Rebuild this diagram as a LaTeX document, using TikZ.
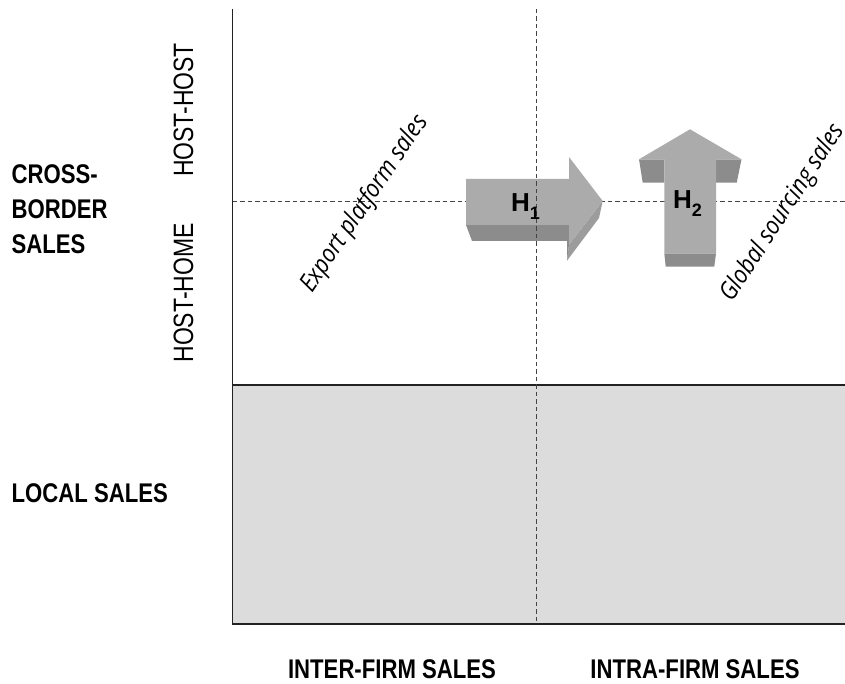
\documentclass[tikz,border=0pt]{standalone}
\usepackage{fontspec}
\setmainfont{Liberation Sans}
\newfontfamily\narrowfont[FakeStretch=0.82]{Liberation Sans}
\newfontfamily\humanfont[FakeStretch=0.88]{Open Sans}
\definecolor{frontgray}{HTML}{ABABAB}
\definecolor{darkgray2}{HTML}{8C8C8C}
\definecolor{sidegray}{HTML}{9C9C9C}
\definecolor{fillgray}{HTML}{DCDCDC}
\definecolor{linegray}{HTML}{222222}
\definecolor{dashgray}{HTML}{444444}
\begin{document}
\begin{tikzpicture}[x=1pt,y=-1pt,
  axislabel/.style={inner sep=0pt,font=\narrowfont\bfseries\fontsize{27}{27}\selectfont},
  sublabel/.style={inner sep=0pt,font=\narrowfont\fontsize{28}{28}\selectfont},
  diaglabel/.style={inner sep=0pt,font=\humanfont\itshape\fontsize{25}{25}\selectfont},
  hlabel/.style={inner sep=0pt,anchor=base west,font=\bfseries\fontsize{26}{26}\selectfont},
  axisline/.style={draw=linegray,line width=1.5pt},
  dashline/.style={draw=dashgray,line width=1pt,dash pattern=on 4.5pt off 3pt},
  front/.style={fill=frontgray},
  dark/.style={fill=darkgray2},
  side/.style={fill=sidegray}]
\useasboundingbox (0,0) rectangle (845,684);

% coordinates
\coordinate (top) at (232.7,9);
\coordinate (bl) at (232.7,624);
\coordinate (br) at (845,624);
\coordinate (ml) at (232.7,385);
\coordinate (mr) at (845,385);
\coordinate (vt) at (536,9);
\coordinate (vb) at (536,624);
\coordinate (hl) at (232.7,202);
\coordinate (hr) at (845,202);

% local sales area
\fill[fillgray] (ml) rectangle (br);
\draw[axisline] (mr) -- (ml);
\draw[axisline] (top) -- (bl) -- (br);

% horizontal dashed line (behind arrows)
\draw[dashline] (hl) -- (hr);

% H1 arrow
\path[dark] (466,225) -- (569,225) -- (569,241) -- (472,241) -- cycle;
\path[side] (602.7,201) -- (569,244.7) -- (567,260.7) -- (599,218) -- cycle;
\path[dark] (569,225) -- (569,244.7) -- (567,260.7) -- (567,241) -- cycle;
\path[front] (466,179) -- (569,179) -- (569,157) -- (602.7,201) -- (569,244.7) -- (569,225) -- (466,225) -- cycle;

% H2 arrow
\path[dark] (639,159.3) -- (664.3,159.3) -- (664.3,182.7) -- (642.7,182.7) -- cycle;
\path[dark] (716,159.3) -- (741.5,159.3) -- (736.7,182.7) -- (716,182.7) -- cycle;
\path[dark] (664.3,253.3) -- (716,253.3) -- (714.3,266.7) -- (665.7,266.7) -- cycle;
\path[front] (664.3,253.3) -- (664.3,159.3) -- (639,159.3) -- (690,129.3) -- (741.5,159.3) -- (716,159.3) -- (716,253.3) -- cycle;

% vertical dashed line
\draw[dashline] (vt) -- (vb);

% arrow labels
\node[hlabel] (h1) at (511,212) {H\raisebox{-8pt}{\fontsize{18}{18}\selectfont 1}};
\node[hlabel] (h2) at (673,208.3) {H\raisebox{-8.4pt}{\fontsize{18}{18}\selectfont 2}};

% left labels
\node[axislabel,anchor=base west] (cb1) at (11.5,184) {CROSS-};
\node[axislabel,anchor=base west] (cb2) at (11.5,219) {BORDER};
\node[axislabel,anchor=base west] (cb3) at (11.5,254) {SALES};
\node[axislabel,anchor=base west] (local) at (11.5,502) {LOCAL SALES};
\node[sublabel,anchor=base,rotate=90] (hh) at (193,110) {HOST-HOST};
\node[sublabel,anchor=base,rotate=90] (hm) at (193,293) {HOST-HOME};

% bottom labels
\node[axislabel,anchor=base] (inter) at (392,678) {INTER-FIRM SALES};
\node[axislabel,anchor=base] (intra) at (695,678) {INTRA-FIRM SALES};

% diagonal labels
\node[diaglabel,rotate=56] (export) at (365,204) {Export platform sales};
\node[diaglabel,rotate=57] (global) at (783,213) {Global sourcing sales};
\end{tikzpicture}
\end{document}
